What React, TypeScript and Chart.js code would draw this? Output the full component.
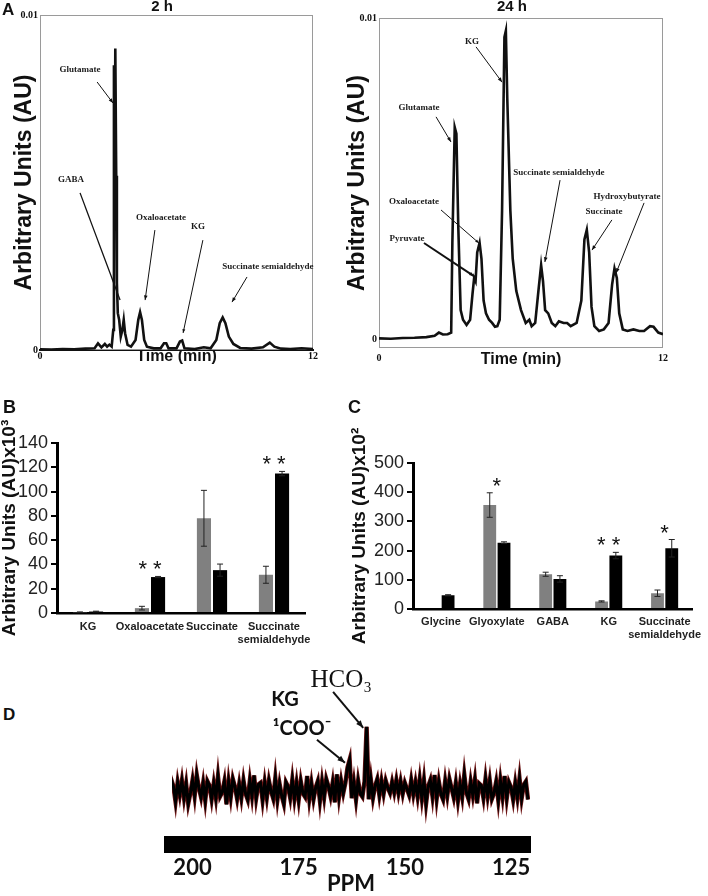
import React, { useEffect, useRef } from "react";
import { Chart, registerables } from "chart.js";

Chart.register(...registerables);

// ---------------- DATA ----------------
// Panel A, 2 h chromatogram: retention time (min) and signal (AU)
const a2hTime = [
  0, 0.5, 1.0, 1.5, 2.0, 2.4, 2.55, 2.7, 2.85, 2.95,
  3.05, 3.15, 3.22, 3.25, 3.28, 3.31, 3.35, 3.38, 3.42, 3.48,
  3.55, 3.62, 3.68, 3.74, 3.85, 4.0, 4.2, 4.32, 4.4, 4.48,
  4.58, 4.7, 5.0, 5.3, 5.45, 5.55, 5.65, 6.0, 6.15, 6.25,
  6.35, 6.8, 7.2, 7.5, 7.75, 7.9, 8.03, 8.15, 8.3, 8.5,
  8.8, 9.3, 9.8, 10.1, 10.3, 10.6, 11.0, 11.5, 12,
];
const a2hSignal = [
  0.00002, 0.00001, 0.00003, 0.00002, 0.00004, 0.00005, 0.0002, 0.00008, 0.00018, 0.0001,
  0.00016, 0.0001, 0.0006, 0.0085, 0.0045, 0.009, 0.0052, 0.002, 0.0011, 0.0009,
  0.0004, 0.0006, 0.0009, 0.0005, 0.00015, 0.0001, 0.0003, 0.0009, 0.00113, 0.0009,
  0.0003, 0.0001, 0.00005, 0.00005, 0.0002, 0.0002, 0.00005, 0.00005, 0.00025, 0.00028,
  0.00005, 0.00003, 0.00008, 0.00005, 0.0003, 0.0008, 0.00097, 0.0008, 0.0004, 0.00018,
  0.00006, 0.00004, 0.00008, 0.00022, 0.0001, 0.00004, 0.00003, 0.00005, 0.00003,
];
// Panel A, 24 h chromatogram
const a24hTime = [
  0, 0.5, 1.0, 1.5, 2.0, 2.35, 2.53, 2.7, 2.9, 3.05,
  3.1, 3.2, 3.27, 3.35, 3.45, 3.55, 3.7, 3.85, 3.95, 4.02,
  4.08, 4.15, 4.25, 4.33, 4.42, 4.52, 4.65, 4.78, 4.9, 5.0,
  5.1, 5.2, 5.3, 5.36, 5.42, 5.55, 5.65, 5.8, 6.0, 6.2,
  6.35, 6.45, 6.6, 6.75, 6.85, 6.93, 7.02, 7.15, 7.3, 7.45,
  7.6, 7.8, 7.95, 8.1, 8.35, 8.55, 8.68, 8.78, 8.88, 8.98,
  9.1, 9.3, 9.5, 9.7, 9.85, 9.95, 10.05, 10.15, 10.3, 10.5,
  10.75, 11.0, 11.2, 11.45, 11.6, 11.8, 12.0,
];
const a24hSignal = [
  0.00002, 0.00001, 0.00003, 0.00004, 0.00006, 0.0001, 0.0002, 0.00014, 0.00015, 0.0002,
  0.003, 0.0066, 0.0064, 0.0035, 0.0009, 0.0006, 0.00044, 0.0006, 0.0014, 0.0019,
  0.0018, 0.0027, 0.003, 0.0025, 0.0012, 0.0008, 0.0006, 0.0005, 0.00038, 0.0004,
  0.0006, 0.004, 0.0094, 0.0096, 0.0075, 0.004, 0.0025, 0.0015, 0.0009, 0.0005,
  0.0006, 0.0004, 0.0005, 0.0016, 0.0023, 0.0018, 0.0009, 0.0008, 0.0005, 0.0004,
  0.00055, 0.0005, 0.0005, 0.0004, 0.0005, 0.0012, 0.0031, 0.0034, 0.0027, 0.001,
  0.0004, 0.00025, 0.0003, 0.0005, 0.0017, 0.0022, 0.0019, 0.0008, 0.0003, 0.00025,
  0.0003, 0.00025, 0.00025, 0.0004, 0.00038, 0.0002, 0.00015,
];
const aXTicks = [0, 12];
const aYTicks = [0, 0.01];

// Panel B (x10^3 AU): gray = 2 h, black = 24 h
const bCategories: any[] = ["KG", "Oxaloacetate", "Succinate", ["Succinate", "semialdehyde"]];
const b2h = [0.6, 4, 78, 31.5];
const b2hErr = [0.3, 1.5, 23, 7];
const b24h = [1.2, 29.6, 35.3, 114.8];
const b24hErr = [0.3, 0.5, 5, 1.8];
const bSig = ["", "**", "", "**"];

// Panel C (x10^2 AU)
const cCategories: any[] = ["Glycine", "Glyoxylate", "GABA", "KG", ["Succinate", "semialdehyde"]];
const c2h = [0, 356, 119, 26, 54];
const c2hErr = [0, 42, 7, 2, 11];
const c24h = [47, 227, 103, 183, 208];
const c24hErr = [2, 3, 11, 11, 30];
const cSig = ["", "*", "", "**", "*"];

// Panel D: 13C NMR spectrum, sampled every 0.5 ppm from 206 ppm downward
const dPpmFirst = 206;
const dPpmStep = 0.5;
const dIntensity = [
  5.5, -2.2, 3.0, 1.0, -3.5, 2.1, -1.5, 2.6, -2.4, 1.7,
  -4.1, -1.0, 2.8, -1.9, 4.3, 0.5, -2.2, 1.9, -3.2, 2.5,
  1.2, -2.8, 1.8, -2.4, 3.9, -2.0, -0.8, 2.4, -4.3, 2.3,
  -2.2, 3.1, 0.8, -2.7, 1.6, -2.4, 2.7, -1.2, -3.0, 2.6,
  -1.9, 4.2, -2.5, 1.5, 2.0, -3.1, 2.1, -2.3, 2.6, -0.5,
  -2.6, 3.4, -2.9, 1.7, -1.8, -4.2, 2.2, 0.9, -2.4, 2.9,
  -2.6, 1.9, -3.0, 2.4, -1.1, -2.1, 4.0, -2.7, 1.8, -2.8,
  0.6, 2.5, -3.3, 2.3, -2.2, 3.1, 1.0, -1.9, 2.0, -3.7,
  4.5, -2.1, 2.5, -1.0, 2.0, 6.5, 8.8, -2.5, 2.1, -3.0,
  2.6, -1.2, -2.1, 2.4, 18.5, -2.8, 2.9, -2.4, 1.1, 3.1,
  -1.6, 2.5, -1.2, 2.6, 0.5, -1.0, 2.2, -0.8, 2.8, -1.0,
  2.4, -1.2, 2.0, 0.2, -1.6, 2.7, -1.4, 2.1, -2.0, 3.0,
  -2.5, 2.7, -4.1, 1.0, 2.8, -1.9, 4.3, -2.6, 2.4, -1.3,
  -2.9, 2.5, -1.7, 3.1, 0.4, -2.3, 2.0, -3.2, 1.6, -2.1,
  4.4, -0.9, -2.8, 2.3, -1.6, 2.9, -4.0, 1.8, 1.2, -2.4,
  3.2, -1.8, 2.6, -2.7, -1.0, 2.3, -3.1, 2.7, -2.0, 4.0,
  -2.5, 2.2, 0.7, -2.9, 1.9, -2.3, 3.3, -2.6, 1.4, 2.4, -2.9,
];
const dTicks = [200, 175, 150, 125];

// ---------------- STYLE ----------------
const SANS = "'Liberation Sans', Arial, sans-serif";
const SERIF = "'Liberation Serif', 'Times New Roman', serif";
const CAL = "Lato, 'Open Sans', 'DejaVu Sans', sans-serif";
const NOTE_FONT = `bold 9px ${SERIF}`;

// ---------------- PLUGINS ----------------
type Note = { text: string; x: number; y: number; font?: string; color?: string };
type Arrow = { x1: number; y1: number; x2: number; y2: number; head?: number; width?: number };

function annotPlugin(notes: Note[], arrows: Arrow[]) {
  return {
    id: "annot",
    afterDatasetsDraw(chart: any) {
      const { ctx } = chart;
      const xs = chart.scales.x;
      const ys = chart.scales.y;
      ctx.save();
      ctx.strokeStyle = "#111";
      ctx.fillStyle = "#111";
      arrows.forEach((a) => {
        const x1 = xs.getPixelForValue(a.x1);
        const y1 = ys.getPixelForValue(a.y1);
        const x2 = xs.getPixelForValue(a.x2);
        const y2 = ys.getPixelForValue(a.y2);
        ctx.lineWidth = a.width || 1;
        ctx.beginPath();
        ctx.moveTo(x1, y1);
        ctx.lineTo(x2, y2);
        ctx.stroke();
        if (a.head) {
          const ang = Math.atan2(y2 - y1, x2 - x1);
          const h = a.head;
          ctx.beginPath();
          ctx.moveTo(x2, y2);
          ctx.lineTo(x2 - h * Math.cos(ang - 0.38), y2 - h * Math.sin(ang - 0.38));
          ctx.lineTo(x2 - h * Math.cos(ang + 0.38), y2 - h * Math.sin(ang + 0.38));
          ctx.closePath();
          ctx.fill();
        }
      });
      notes.forEach((n) => {
        ctx.font = n.font || NOTE_FONT;
        ctx.fillStyle = n.color || "#1a1a1a";
        ctx.textAlign = "center";
        ctx.textBaseline = "middle";
        ctx.fillText(n.text, xs.getPixelForValue(n.x), ys.getPixelForValue(n.y));
      });
      ctx.restore();
    },
  };
}

function framePlugin(color: string) {
  return {
    id: "frame",
    beforeDatasetsDraw(chart: any) {
      const { ctx, chartArea } = chart;
      const { left, top, right, bottom } = chartArea;
      ctx.save();
      ctx.strokeStyle = color;
      ctx.lineWidth = 1;
      ctx.strokeRect(left + 0.5, top + 0.5, right - left - 1, bottom - top - 1);
      ctx.restore();
    },
  };
}

function barDecor(errs: number[][], sig: string[]) {
  return {
    id: "barDecor",
    afterDatasetsDraw(chart: any) {
      const { ctx } = chart;
      const ys = chart.scales.y;
      const xs = chart.scales.x;
      ctx.save();
      ctx.strokeStyle = "#222";
      ctx.lineWidth = 1;
      chart.data.datasets.forEach((ds: any, di: number) => {
        const meta = chart.getDatasetMeta(di);
        meta.data.forEach((bar: any, j: number) => {
          const e = errs[di][j];
          if (!e) return;
          const v = ds.data[j];
          const yt = ys.getPixelForValue(v + e);
          const yb = ys.getPixelForValue(Math.max(0, v - e));
          const x = bar.x;
          ctx.beginPath();
          ctx.moveTo(x, yt);
          ctx.lineTo(x, yb);
          ctx.moveTo(x - 3, yt);
          ctx.lineTo(x + 3, yt);
          ctx.moveTo(x - 3, yb);
          ctx.lineTo(x + 3, yb);
          ctx.stroke();
        });
      });
      ctx.fillStyle = "#111";
      ctx.font = `22px ${SANS}`;
      ctx.textAlign = "center";
      ctx.textBaseline = "alphabetic";
      sig.forEach((s, j) => {
        if (!s) return;
        let top = Infinity;
        chart.data.datasets.forEach((ds: any, di: number) => {
          top = Math.min(top, ys.getPixelForValue(ds.data[j] + (errs[di][j] || 0)));
        });
        ctx.fillText(s.split("").join(" "), xs.getPixelForValue(j), top);
      });
      ctx.restore();
    },
  };
}

// ---------------- CHART CONFIGS ----------------
function chromConfig(
  times: number[],
  signal: number[],
  box: { padTop: number; padRight: number; yWidth: number; xHeight: number; yMin: number; yTitlePad: number; xTitlePad: number; xTickPad: number; xDash: boolean },
  notes: Note[],
  arrows: Arrow[]
) {
  return {
    type: "line",
    data: {
      datasets: [
        {
          data: times.map((t, i) => ({ x: t, y: signal[i] })),
          borderColor: "#111",
          borderWidth: 2.6,
          pointRadius: 0,
          tension: 0,
          fill: false,
        },
      ],
    },
    options: {
      responsive: false,
      animation: false,
      events: [],
      layout: { padding: { top: box.padTop, right: box.padRight, left: 0, bottom: 0 } },
      plugins: { legend: { display: false }, tooltip: { enabled: false } },
      scales: {
        x: {
          type: "linear",
          min: 0,
          max: 12,
          afterBuildTicks: (s: any) => {
            s.ticks = aXTicks.map((v) => ({ value: v }));
          },
          ticks: { font: { family: SERIF, size: 10, weight: "bold" }, color: "#111", padding: box.xTickPad, callback: (v: any) => String(v) },
          grid: { display: false, drawTicks: false },
          border: box.xDash ? { display: true, color: "#111", width: 2, dash: [5, 3] } : { display: false },
          title: {
            display: true,
            text: "Time (min)",
            color: "#111",
            font: { family: SANS, size: 16, weight: "bold", lineHeight: 1.2 },
            padding: { top: 0, bottom: box.xTitlePad },
          },
          afterFit: (s: any) => {
            s.height = box.xHeight;
          },
        },
        y: {
          min: box.yMin,
          max: 0.01,
          afterBuildTicks: (s: any) => {
            s.ticks = aYTicks.map((v) => ({ value: v }));
          },
          ticks: { font: { family: SERIF, size: 10, weight: "bold" }, color: "#111", padding: 2, callback: (v: any) => String(v) },
          grid: { display: false, drawTicks: false },
          border: { display: false },
          title: {
            display: true,
            text: "Arbitrary Units (AU)",
            color: "#111",
            font: { family: SANS, size: 23, weight: "bold", lineHeight: 1.2 },
            padding: { top: box.yTitlePad, bottom: 0 },
          },
          afterFit: (s: any) => {
            s.width = box.yWidth;
          },
        },
      },
    },
    plugins: [framePlugin("#9a9a9a"), annotPlugin(notes, arrows)],
  };
}

function makeA2h() {
  const notes: Note[] = [
    { text: "Glutamate", x: 1.76, y: 0.00836 },
    { text: "GABA", x: 1.36, y: 0.00507 },
    { text: "Oxaloacetate", x: 5.32, y: 0.00394 },
    { text: "KG", x: 6.95, y: 0.00367 },
    { text: "Succinate semialdehyde", x: 10.02, y: 0.00248 },
  ];
  const arrows: Arrow[] = [
    { x1: 2.51, y1: 0.008, x2: 3.21, y2: 0.00737, head: 5 },
    { x1: 1.76, y1: 0.00469, x2: 3.52, y2: 0.00149, head: 0, width: 1.3 },
    { x1: 5.05, y1: 0.00358, x2: 4.62, y2: 0.00149, head: 5 },
    { x1: 7.16, y1: 0.00328, x2: 6.29, y2: 0.00051, head: 4 },
    { x1: 9.1, y1: 0.00218, x2: 8.44, y2: 0.00143, head: 5 },
  ];
  return chromConfig(
    a2hTime,
    a2hSignal,
    { padTop: 15, padRight: 41, yWidth: 40, xHeight: 20, yMin: 0, yTitlePad: 11.2, xTitlePad: 3.4, xTickPad: 0, xDash: true },
    notes,
    arrows
  );
}

function makeA24h() {
  const notes: Note[] = [
    { text: "KG", x: 3.93, y: 0.00925 },
    { text: "Glutamate", x: 1.69, y: 0.0072 },
    { text: "Succinate semialdehyde", x: 7.6, y: 0.00517 },
    { text: "Oxaloacetate", x: 1.48, y: 0.00427 },
    { text: "Pyruvate", x: 1.18, y: 0.00312 },
    { text: "Hydroxybutyrate", x: 10.48, y: 0.00442 },
    { text: "Succinate", x: 9.51, y: 0.00396 },
  ];
  const arrows: Arrow[] = [
    { x1: 4.1, y1: 0.0091, x2: 5.2, y2: 0.008, head: 5 },
    { x1: 2.41, y1: 0.00692, x2: 3.04, y2: 0.00614, head: 5 },
    { x1: 7.65, y1: 0.00495, x2: 7.01, y2: 0.0024, head: 5 },
    { x1: 2.62, y1: 0.00402, x2: 4.22, y2: 0.00299, head: 4 },
    { x1: 1.9, y1: 0.00299, x2: 4.01, y2: 0.00196, head: 5, width: 2 },
    { x1: 11.2, y1: 0.00424, x2: 10.02, y2: 0.00206, head: 5 },
    { x1: 9.84, y1: 0.00371, x2: 9.0, y2: 0.00277, head: 5 },
  ];
  return chromConfig(
    a24hTime,
    a24hSignal,
    { padTop: 18, padRight: 45, yWidth: 39, xHeight: 22, yMin: -0.00028, yTitlePad: 4.2, xTitlePad: 0.4, xTickPad: 4, xDash: false },
    notes,
    arrows
  );
}

function barConfig(
  labels: any[],
  gray: number[],
  black: number[],
  grayErr: number[],
  blackErr: number[],
  sig: string[],
  box: { padTop: number; padRight: number; yWidth: number; xHeight: number; yMax: number; step: number; title: string; titlePad: number; catPct: number; barPct: number; xTickPad: number }
) {
  return {
    type: "bar",
    data: {
      labels,
      datasets: [
        { label: "2 h", data: gray, backgroundColor: "#808080", categoryPercentage: box.catPct, barPercentage: box.barPct },
        { label: "24 h", data: black, backgroundColor: "#000000", categoryPercentage: box.catPct, barPercentage: box.barPct },
      ],
    },
    options: {
      responsive: false,
      animation: false,
      events: [],
      layout: { padding: { top: box.padTop, right: box.padRight, left: 0, bottom: 0 } },
      plugins: { legend: { display: false }, tooltip: { enabled: false } },
      scales: {
        x: {
          grid: { display: false, drawTicks: false },
          border: { display: true, color: "#000", width: 2.5 },
          ticks: { font: { family: SANS, size: 11, weight: "bold", lineHeight: 1.2 }, color: "#222", padding: box.xTickPad, maxRotation: 0, autoSkip: false },
          afterFit: (s: any) => {
            s.height = box.xHeight;
          },
        },
        y: {
          min: 0,
          max: box.yMax,
          ticks: { stepSize: box.step, autoSkip: false, font: { family: SANS, size: 18 }, color: "#222", padding: 3 },
          grid: { display: true, drawOnChartArea: false, drawTicks: true, tickLength: 6, color: "#000", lineWidth: 2 },
          border: { display: true, color: "#000", width: 3 },
          title: {
            display: true,
            text: box.title,
            color: "#111",
            font: { family: SANS, size: 19, weight: "bold", lineHeight: 1 },
            padding: { top: box.titlePad, bottom: 0 },
          },
          afterFit: (s: any) => {
            s.width = box.yWidth;
          },
        },
      },
    },
    plugins: [barDecor([grayErr, blackErr], sig)],
  };
}

function makeB() {
  return barConfig(bCategories, b2h, b24h, b2hErr, b24hErr, bSig, {
    padTop: 53, padRight: 49, yWidth: 57, xHeight: 47, yMax: 140, step: 20,
    title: "Arbitrary Units (AU)x10³", titlePad: 0.5, catPct: 0.52, barPct: 0.875, xTickPad: 7,
  });
}

function makeC() {
  return barConfig(cCategories, c2h, c24h, c2hErr, c24hErr, cSig, {
    padTop: 73, padRight: 10, yWidth: 73, xHeight: 51, yMax: 500, step: 100,
    title: "Arbitrary Units (AU)x10²", titlePad: 10.5, catPct: 0.51, barPct: 0.9, xTickPad: 6,
  });
}

function makeD() {
  const pts = dIntensity.map((v, i) => ({ x: dPpmFirst - dPpmStep * i, y: v }));
  const notes: Note[] = [
    { text: "HCO₃", x: 165.0, y: 32.1, font: `25px ${SERIF}`, color: "#111" },
    { text: "KG", x: 178.2, y: 26.5, font: `bold 20px ${CAL}`, color: "#111" },
    { text: "¹COO⁻", x: 174.2, y: 17.9, font: `bold 20px ${CAL}`, color: "#111" },
  ];
  const arrows: Arrow[] = [
    { x1: 166.9, y1: 28.8, x2: 159.8, y2: 18.2, head: 8, width: 2 },
    { x1: 170.7, y1: 14.7, x2: 164.1, y2: 7.9, head: 8, width: 2 },
  ];
  return {
    type: "line",
    data: {
      datasets: [
        { data: pts, borderColor: "#000", borderWidth: 3, pointRadius: 0, tension: 0, fill: false },
        { data: pts, borderColor: "#6e1414", borderWidth: 4.4, pointRadius: 0, tension: 0, fill: false },
      ],
    },
    options: {
      responsive: false,
      animation: false,
      events: [],
      layout: { padding: { top: 80, right: 20, left: 22, bottom: 0 } },
      plugins: { legend: { display: false }, tooltip: { enabled: false } },
      scales: {
        x: {
          type: "linear",
          reverse: true,
          min: 120.53,
          max: 204.83,
          afterBuildTicks: (s: any) => {
            s.ticks = dTicks.map((v) => ({ value: v }));
          },
          ticks: { font: { family: CAL, size: 22, weight: "bold" }, color: "#111", padding: 11, callback: (v: any) => String(v), maxRotation: 0 },
          grid: { display: false, drawTicks: false },
          border: { display: true, color: "#000", width: 17 },
          title: { display: true, text: "PPM", color: "#111", font: { family: CAL, size: 22, weight: "bold", lineHeight: 1 }, padding: { top: 0, bottom: 1 } },
          afterFit: (s: any) => {
            s.height = 52;
          },
        },
        y: { display: false, min: -16, max: 20.5 },
      },
    },
    plugins: [annotPlugin(notes, arrows)],
  };
}

// ---------------- COMPONENTS ----------------
function ChartBox(props: { left: number; top: number; width: number; height: number; make: () => any }) {
  const ref = useRef<HTMLCanvasElement>(null);
  useEffect(() => {
    const chart = new Chart(ref.current as HTMLCanvasElement, props.make());
    return () => chart.destroy();
  }, []);
  return (
    <canvas
      ref={ref}
      width={props.width}
      height={props.height}
      style={{ position: "absolute", left: props.left, top: props.top, width: props.width, height: props.height }}
    />
  );
}

function Label(props: { text: string; left: number; top: number; size: number; center?: boolean }) {
  return (
    <div
      style={{
        position: "absolute",
        left: props.left,
        top: props.top,
        fontSize: props.size,
        fontWeight: "bold",
        lineHeight: 1,
        whiteSpace: "nowrap",
        color: "#111",
        fontFamily: SANS,
        transform: props.center ? "translateX(-50%)" : undefined,
      }}
    >
      {props.text}
    </div>
  );
}

export default function App() {
  return (
    <div style={{ position: "absolute", left: 0, top: 0, width: 708, height: 896, background: "#fff", overflow: "hidden" }}>
      <ChartBox left={0} top={0} width={354} height={370} make={makeA2h} />
      <ChartBox left={340} top={0} width={368} height={370} make={makeA24h} />
      <ChartBox left={0} top={390} width={354} height={270} make={makeB} />
      <ChartBox left={340} top={390} width={368} height={270} make={makeC} />
      <ChartBox left={150} top={640} width={400} height={256} make={makeD} />
      <Label text="A" left={2} top={1} size={17} />
      <Label text="2 h" left={162} top={-2} size={15} center />
      <Label text="24 h" left={512} top={-2} size={15} center />
      <Label text="B" left={3} top={398} size={18} />
      <Label text="C" left={348} top={398} size={18} />
      <Label text="D" left={3} top={706} size={17} />
    </div>
  );
}
